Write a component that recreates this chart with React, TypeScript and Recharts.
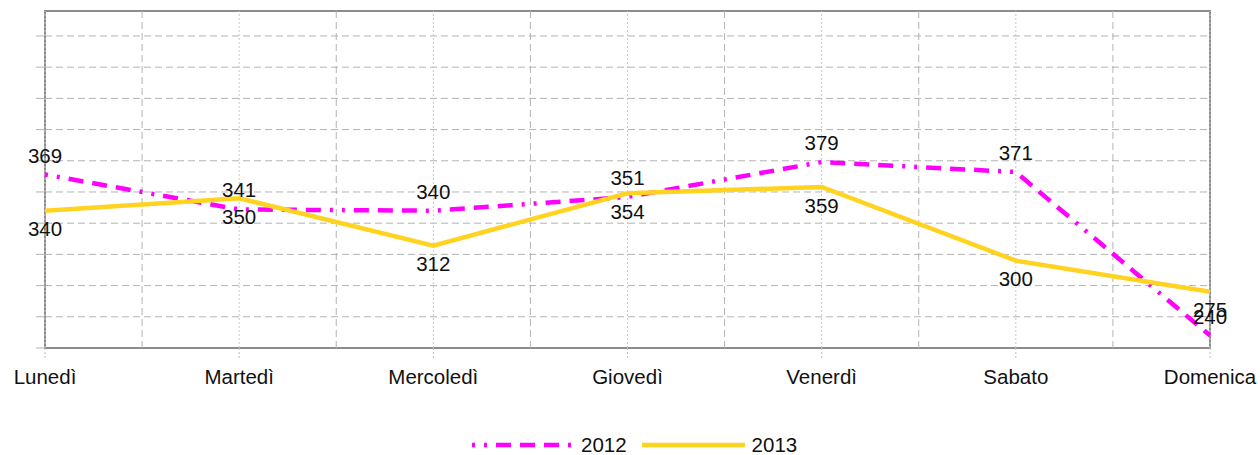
import React from 'react';
import {
    LineChart,
    Line,
    XAxis,
    YAxis,
    CartesianGrid,
    ReferenceLine,
    ReferenceArea,
    Legend,
    LabelList
} from 'recharts';

const days = ['Lunedì', 'Martedì', 'Mercoledì', 'Giovedì', 'Venerdì', 'Sabato', 'Domenica'];
const values2012 = [369, 341, 340, 351, 379, 371, 240];
const values2013 = [340, 350, 312, 354, 359, 300, 275];
const yTicks = [230, 255, 280, 305, 330, 355, 380, 405, 430, 455, 480];
const yDomain = [230, 500];

const FONT = '"Liberation Sans", Arial, sans-serif';
const MAGENTA = '#ff00ff';
const YELLOW = '#ffd320';
const DASH_2012 = '3 9 3 9 15 9 15 9 15 9';

const chartData = days.map((day, i) => ({
    idx: i,
    day,
    y2012: values2012[i],
    y2013: values2013[i]
}));

const LegendContent = () => (
    <div style={{ height: 40, position: 'relative', fontFamily: FONT }}>
        <div
            style={{
                position: 'absolute',
                top: 20,
                left: 472,
                display: 'flex',
                alignItems: 'center',
                height: 20,
                fontSize: 20.5,
                color: '#111'
            }}
        >
            <svg width={100} height={8}>
                <line x1={0} y1={4} x2={100} y2={4} stroke={MAGENTA} strokeWidth={4.5} strokeDasharray={DASH_2012} />
            </svg>
            <span style={{ marginLeft: 9, marginRight: 15 }}>2012</span>
            <svg width={103} height={8}>
                <line x1={0} y1={4} x2={103} y2={4} stroke={YELLOW} strokeWidth={4.5} />
            </svg>
            <span style={{ marginLeft: 7 }}>2013</span>
        </div>
    </div>
);

const App: React.FC = () => {
    return (
        <div style={{ position: 'absolute', left: 0, top: 0 }}>
            <LineChart
                width={1260}
                height={455}
                data={chartData}
                margin={{ top: 11, right: 50, bottom: 0, left: 0 }}
                style={{ fontFamily: FONT }}
            >
                <CartesianGrid vertical={false} stroke="#b3b3b3" strokeDasharray="7 4" />
                <XAxis
                    dataKey="idx"
                    type="number"
                    domain={[0, days.length - 1]}
                    ticks={chartData.map(d => d.idx)}
                    tickFormatter={(i: number) => days[i]}
                    height={67}
                    tickSize={10}
                    tickMargin={11}
                    axisLine={false}
                    tickLine={{ stroke: '#bdbdbd', strokeDasharray: '2 2' }}
                    tick={{ fill: '#111', fontSize: 20.5 }}
                    interval={0}
                />
                <YAxis
                    domain={yDomain}
                    ticks={yTicks}
                    allowDataOverflow
                    width={45}
                    tickSize={9}
                    tickFormatter={() => ''}
                    axisLine={false}
                    tickLine={{ stroke: '#b3b3b3' }}
                />
                {days.map((d, i) => (
                    <ReferenceLine
                        key={`c-${d}`}
                        x={i}
                        stroke="#c8c8c8"
                        strokeDasharray="2 2"
                    />
                ))}
                {days.slice(0, -1).map((d, i) => (
                    <ReferenceLine
                        key={`m-${d}`}
                        x={i + 0.5}
                        stroke="#b3b3b3"
                        strokeDasharray="7 4"
                    />
                ))}
                <ReferenceArea
                    x1={0}
                    x2={days.length - 1}
                    y1={yDomain[0]}
                    y2={yDomain[1]}
                    fill="none"
                    fillOpacity={0}
                    stroke="#8c8c8c"
                    strokeWidth={2}
                />
                <Legend verticalAlign="bottom" content={<LegendContent />} wrapperStyle={{ left: 0, width: 1260 }} />
                <Line
                    dataKey="y2012"
                    stroke={MAGENTA}
                    strokeWidth={4.5}
                    strokeDasharray={DASH_2012}
                    dot={false}
                    isAnimationActive={false}
                >
                    <LabelList dataKey="y2012" position="top" offset={12} fill="#111" fontSize={20.5} />
                </Line>
                <Line
                    dataKey="y2013"
                    stroke={YELLOW}
                    strokeWidth={4.5}
                    dot={false}
                    isAnimationActive={false}
                >
                    <LabelList dataKey="y2013" position="bottom" offset={11} fill="#111" fontSize={20.5} />
                </Line>
            </LineChart>
        </div>
    );
};

export default App;
